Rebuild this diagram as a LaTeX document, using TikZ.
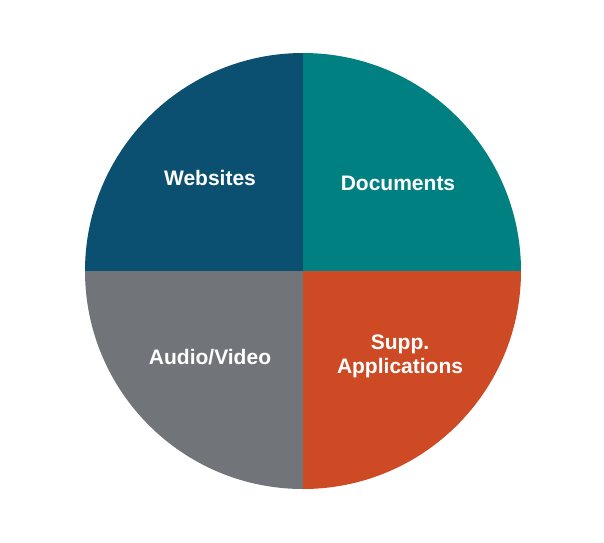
\documentclass[tikz,border=0pt]{standalone}
\usepackage{fontspec}
\setmainfont{Liberation Sans}
\usetikzlibrary{positioning}
\definecolor{webblue}{HTML}{0B5070}
\definecolor{docteal}{HTML}{008080}
\definecolor{avgrey}{HTML}{717479}
\definecolor{appred}{HTML}{CD4A24}
\tikzset{label/.style={text=white, font=\fontsize{21}{24}\selectfont\bfseries, align=center}}

\begin{document}
\begin{tikzpicture}[x=1pt, y=1pt]
      \useasboundingbox (0,0) rectangle (604,-542);
      \coordinate (c) at (303,-271);
      %sectors
      \fill[webblue] (c) -- ++(0,218) arc (90:180:218) -- cycle;
      \fill[docteal] (c) -- ++(218,0) arc (0:90:218) -- cycle;
      \fill[avgrey] (c) -- ++(-218,0) arc (180:270:218) -- cycle;
      \fill[appred] (c) -- ++(0,-218) arc (270:360:218) -- cycle;
      %labels
      \node[label] (web) at (210,-178) {Websites};
      \node[label] (doc) at (398,-183) {Documents};
      \node[label] (av) at (210,-357) {Audio/Video};
      \node[label] (app) at (400,-356) {Supp.\\Applications};
    \end{tikzpicture}
\end{document}
